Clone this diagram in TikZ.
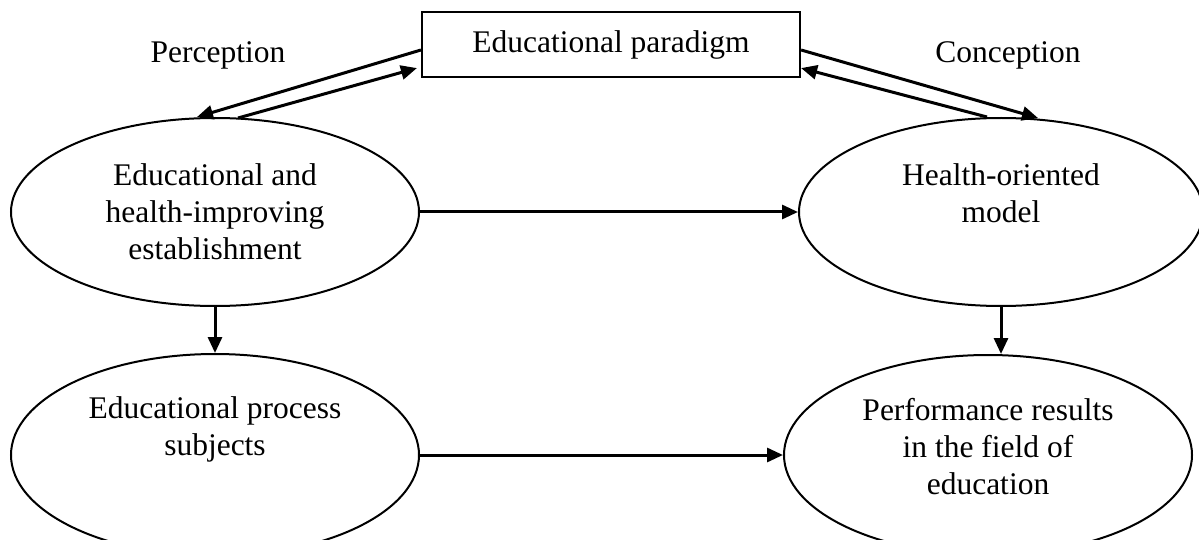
\documentclass[tikz,border=0pt]{standalone}
\usepackage{fontspec}
\setmainfont{Liberation Serif}
\usetikzlibrary{shapes.geometric,arrows.meta,calc}
\begin{document}
\begin{tikzpicture}[x=1pt,y=-1pt,
  every node/.style={font=\fontsize{31.5}{37}\selectfont},
  ell/.style={draw,ellipse,line width=2pt,minimum width=408pt,minimum height=188pt,inner sep=0pt,align=center},
  txt/.style={align=center,inner sep=0pt},
  box/.style={draw,line width=2.2pt,minimum width=378pt,minimum height=65pt,inner sep=0pt},
  arr/.style={line width=3pt,-{Triangle[length=16pt,width=14pt]}}]
\useasboundingbox (0,0) rectangle (1199,540);
\clip (0,0) rectangle (1199,540);
\node[box] (pd) at (611,44.5) {Educational paradigm};
\node[txt] (perc) at (218,55) {Perception};
\node[txt] (conc) at (1008,55) {Conception};
\node[ell] (e1) at (215,212) {Educational and\\health-improving\\establishment};
\node[ell,minimum height=202pt] (e2) at (215,455) {};
\node[txt] (t2) at (215,429) {Educational process\\subjects};
\node[ell,minimum width=404pt] (e3) at (1001,212) {};
\node[txt] (t3) at (1001,193) {Health-oriented\\model};
\node[ell,minimum height=200pt] (e4) at (988,455) {};
\node[txt] (t4) at (988,447) {Performance results\\in the field of\\education};
\draw[arr] ($(pd.west)+(0,5.5)$) -- ($(e1.north)+(-18,0)$);
\draw[arr] ($(e1.north)+(23,1)$) -- ($(pd.south west)+(-4,-10)$);
\draw[arr] ($(pd.east)+(0,5.5)$) -- ($(e3.north)+(37,1)$);
\draw[arr] ($(e3.north)+(-14,0)$) -- ($(pd.south east)+(0,-10)$);
\draw[arr] (e1.east) -- (e3.west);
\draw[arr] (e2.east) -- (e4.west);
\draw[arr] (e1.south) -- (e1.south |- e2.north);
\draw[arr] (e3.south) -- (e3.south |- e4.north);
\end{tikzpicture}
\end{document}
